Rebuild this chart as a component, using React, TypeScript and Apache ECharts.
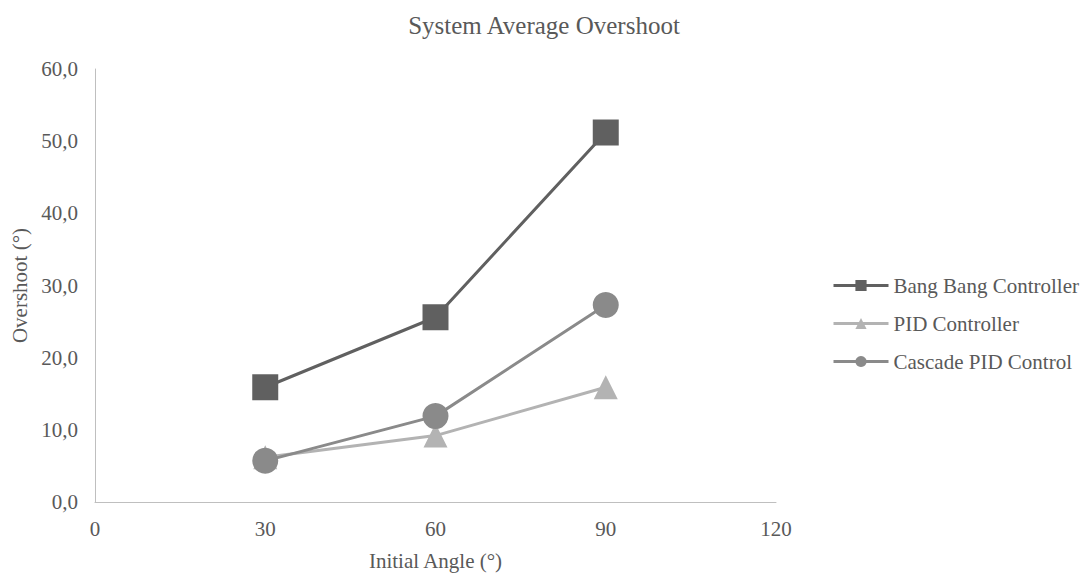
import React, { useEffect, useRef } from "react";
import * as echarts from "echarts";

const angles = [30, 60, 90];
const bangBang = [15.9, 25.6, 51.2];
const pid = [6.2, 9.2, 15.9];
const cascade = [5.7, 11.9, 27.3];
const seriesNames = ["Bang Bang Controller", "PID Controller", "Cascade PID Control"];

const FONT = "Liberation Serif";
const TXT = "#595959";

export default function App() {
  const ref = useRef<HTMLDivElement>(null);
  useEffect(() => {
    if (!ref.current) return;
    const chart = echarts.init(ref.current, null, { renderer: "svg" });
    const mk = (name: string, vals: number[], color: string, symbol: string, size: number) => ({
      name,
      type: "line",
      data: angles.map((a, i) => [a, vals[i]]),
      symbol,
      symbolSize: size,
      lineStyle: { color, width: 3 },
      itemStyle: { color },
      z: 2,
    });
    chart.setOption({
      animation: false,
      backgroundColor: "#ffffff",
      textStyle: { fontFamily: FONT, color: TXT },
      title: {
        text: "System Average Overshoot",
        left: 539,
        textAlign: "center",
        top: 8,
        textStyle: { fontFamily: FONT, color: TXT, fontSize: 25, fontWeight: "normal" },
      },
      legend: {
        orient: "vertical",
        left: 827,
        top: 270,
        itemWidth: 55,
        itemHeight: 14,
        itemGap: 17,
        lineStyle: { width: 3 },
        textStyle: { fontFamily: FONT, color: TXT, fontSize: 21 },
        data: seriesNames,
      },
      grid: { left: 95, right: 308, top: 69, bottom: 75, containLabel: false },
      xAxis: {
        type: "value",
        min: 0,
        max: 120,
        interval: 30,
        name: "Initial Angle (°)",
        nameLocation: "middle",
        nameGap: 48,
        nameTextStyle: { fontFamily: FONT, color: TXT, fontSize: 21 },
        axisLine: { show: true, lineStyle: { color: "#bfbfbf", width: 1 } },
        axisTick: { show: false },
        splitLine: { show: false },
        axisLabel: { fontFamily: FONT, color: TXT, fontSize: 21, margin: 16 },
      },
      yAxis: {
        type: "value",
        min: 0,
        max: 60,
        interval: 10,
        name: "Overshoot (°)",
        nameLocation: "middle",
        nameGap: 65,
        nameTextStyle: { fontFamily: FONT, color: TXT, fontSize: 21 },
        axisLine: { show: true, lineStyle: { color: "#bfbfbf", width: 1 } },
        axisTick: { show: false },
        splitLine: { show: false },
        axisLabel: {
          fontFamily: FONT,
          color: TXT,
          fontSize: 21,
          margin: 17,
          formatter: (v: number) => v.toFixed(1).replace(".", ","),
        },
      },
      series: [
        mk(seriesNames[0], bangBang, "#606060", "rect", 26),
        mk(seriesNames[1], pid, "#b3b3b3", "triangle", 24),
        mk(seriesNames[2], cascade, "#8a8a8a", "circle", 26),
      ],
    });
    return () => chart.dispose();
  }, []);
  return <div ref={ref} style={{ width: 1084, height: 577, position: "absolute", left: 0, top: 0 }} />;
}
